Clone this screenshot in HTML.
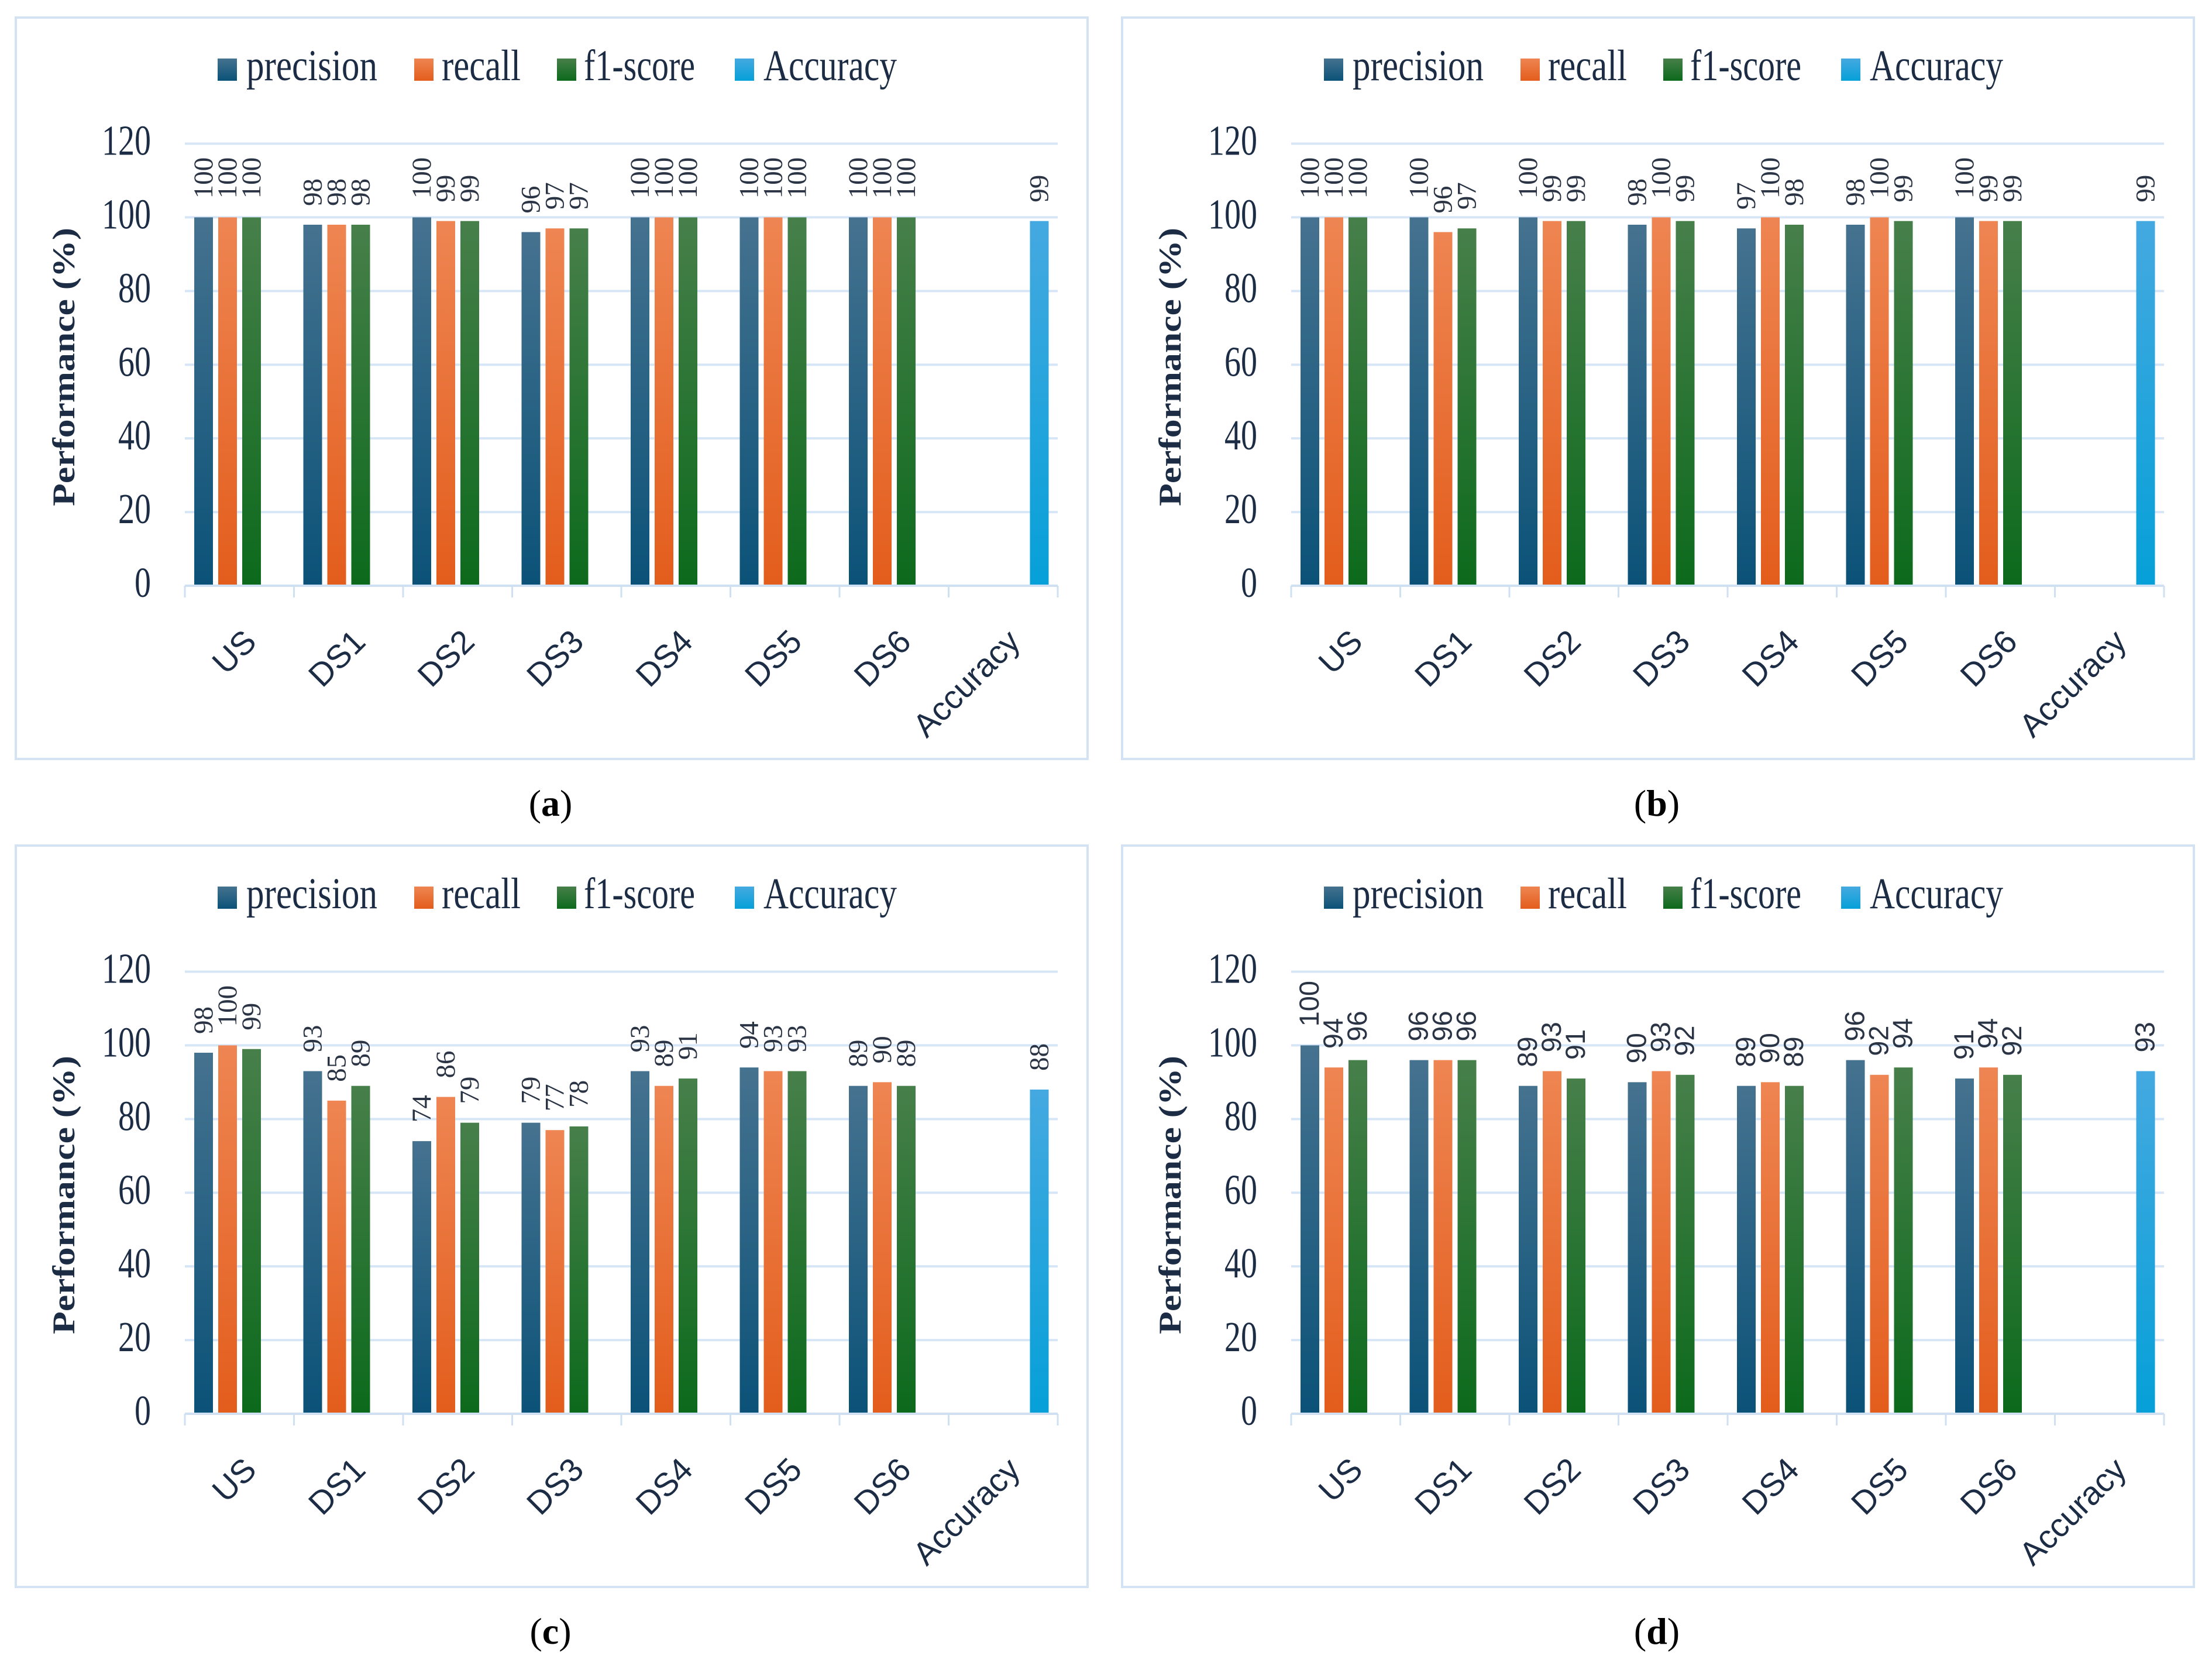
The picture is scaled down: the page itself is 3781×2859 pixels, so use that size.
<!DOCTYPE html>
<html><head><meta charset="utf-8"><style>
html,body{margin:0;padding:0;background:#fff;}
svg{display:block;}
</style></head><body>
<svg id="fig" xmlns="http://www.w3.org/2000/svg" width="3781" height="2859" viewBox="0 0 3781 2859">
<defs>
<linearGradient id="gP" x1="0" y1="0" x2="0" y2="1"><stop offset="0" stop-color="#45728f"/><stop offset="1" stop-color="#0b5278"/></linearGradient>
<linearGradient id="gR" x1="0" y1="0" x2="0" y2="1"><stop offset="0" stop-color="#ee8552"/><stop offset="1" stop-color="#e35d1c"/></linearGradient>
<linearGradient id="gF" x1="0" y1="0" x2="0" y2="1"><stop offset="0" stop-color="#477f4a"/><stop offset="1" stop-color="#0c6a1c"/></linearGradient>
<linearGradient id="gA" x1="0" y1="0" x2="0" y2="1"><stop offset="0" stop-color="#44a9e0"/><stop offset="1" stop-color="#06a0d8"/></linearGradient>
</defs>
</svg>
<script>
const categories = ["US","DS1","DS2","DS3","DS4","DS5","DS6","Accuracy"];
const seriesNames = ["precision","recall","f1-score","Accuracy"];
const yTicks = [0,20,40,60,80,100,120];
const panelLabels = ["a","b","c","d"];
const aPrecision = [100,98,100,96,100,100,100];
const aRecall = [100,98,99,97,100,100,100];
const aF1 = [100,98,99,97,100,100,100];
const aAccuracy = 99;
const bPrecision = [100,100,100,98,97,98,100];
const bRecall = [100,96,99,100,100,100,99];
const bF1 = [100,97,99,99,98,99,99];
const bAccuracy = 99;
const cPrecision = [98,93,74,79,93,94,89];
const cRecall = [100,85,86,77,89,93,90];
const cF1 = [99,89,79,78,91,93,89];
const cAccuracy = 88;
const dPrecision = [100,96,89,90,89,96,91];
const dRecall = [94,96,93,93,90,92,94];
const dF1 = [96,96,91,92,89,94,92];
const dAccuracy = 93;

const NS = "http://www.w3.org/2000/svg";
const svg = document.getElementById('fig');
function mk(tag, attrs, parent, text){
  const e = document.createElementNS(NS, tag);
  for (const k in attrs) e.setAttribute(k, attrs[k]);
  if (text !== undefined) e.textContent = text;
  parent.appendChild(e); return e;
}
const TXT = "#1b2c44";
const fills = ["url(#gP)","url(#gR)","url(#gF)","url(#gA)"];
const legendSq = [372,708,952,1256];
const legendTx = [421,755,998,1305];
const legendW = [224,135,190,228];

function drawPanel(idx, ox, oy, P, R, F, acc, labelFont){
  const g = mk('g', {transform:`translate(${ox},${oy})`}, svg);
  
  
  const fr = mk('rect', {x:27, y:30, width:1832, height:1267, fill:'none', stroke:'#d3e3f4', 'stroke-width':4}, g);
  
  
  const x0 = 316, cw = 186.5, yBase = 1001, yTop = 245.5;
  const yScale = v => yBase - (v/120)*(yBase - yTop);
  const xCat = i => x0 + i*cw;
  yTicks.forEach(t => {
    if (t > 0) {
      const gl = mk('line', {x1:x0, x2:x0+8*cw, y1:yScale(t), y2:yScale(t), stroke:'#d6e6f6', 'stroke-width':4}, g);
      
      
    }
    const tl = mk('text', {transform:`translate(258,${yScale(t)+19}) scale(1,1.3)`, 'text-anchor':'end', 'font-family':'"Liberation Serif", serif', 'font-size':56, fill:TXT}, g, String(t));
    
    
  });
  const yt = mk('text', {transform:'translate(127,627) rotate(-90)', 'text-anchor':'middle', 'font-family':'"Liberation Serif", serif', 'font-weight':'bold', 'font-size':54, fill:TXT, textLength:476, lengthAdjust:'spacingAndGlyphs'}, g, 'Performance (%)');
  
  
  const series = [P, R, F];
  for (let c = 0; c < 7; c++) {
    for (let s = 0; s < 3; s++) {
      const v = series[s][c];
      const bx = xCat(c) + 16 + s*41;
      const b = mk('rect', {x:bx, y:yScale(v), width:32, height:yBase - yScale(v), fill:fills[s]}, g);
      
      
      const lb = mk('text', {transform:`translate(${bx+31},${yScale(v)-32}) rotate(-90)`, 'font-family':labelFont, 'font-size':47, fill:'#2a3444'}, g, String(v));
      
      
    }
  }
  const ax = xCat(7) + 16 + 3*41;
  const ab = mk('rect', {x:ax, y:yScale(acc), width:32, height:yBase - yScale(acc), fill:fills[3]}, g);
  
  
  const al = mk('text', {transform:`translate(${ax+31},${yScale(acc)-32}) rotate(-90)`, 'font-family':labelFont, 'font-size':47, fill:'#2a3444'}, g, String(acc));
  
  
  const xa = mk('line', {x1:x0, x2:x0+8*cw, y1:yBase, y2:yBase, stroke:'#cfe0f2', 'stroke-width':4}, g);
  
  
  for (let i = 0; i <= 8; i++) {
    const tk = mk('line', {x1:xCat(i), x2:xCat(i), y1:yBase, y2:yBase+20, stroke:'#cfe0f2', 'stroke-width':3}, g);
    
    
  }
  categories.forEach((c, i) => {
    const cx = xCat(i) + cw/2;
    const t = mk('text', {transform:`translate(${cx+32},${1100}) rotate(-45)`, 'text-anchor':'end', 'font-family':'"Liberation Sans", sans-serif', 'font-size':56, fill:TXT}, g, c);
    
    
  });
  seriesNames.forEach((n, i) => {
    const sq = mk('rect', {x:legendSq[i], y:100, width:33, height:38, fill:fills[i]}, g);
    
    
    const lt = mk('text', {transform:`translate(${legendTx[i]},137) scale(1,1.25)`, 'font-family':'"Liberation Serif", serif', 'font-size':60, fill:TXT, textLength:legendW[i], lengthAdjust:'spacingAndGlyphs'}, g, n);
    
    
  });
  const cap = mk('text', {x:941, y:1394, 'text-anchor':'middle', 'font-family':'"Liberation Serif", serif', 'font-size':64, fill:'#000'}, g);
  
  
  mk('tspan', {}, cap, '(');
  mk('tspan', {'font-weight':'bold'}, cap, panelLabels[idx]);
  mk('tspan', {}, cap, ')');
}
const serif = '"Liberation Serif", serif';
const sans = '"Liberation Sans", sans-serif';
drawPanel(0, 0, 0, aPrecision, aRecall, aF1, aAccuracy, serif);
drawPanel(1, 1891, 0, bPrecision, bRecall, bF1, bAccuracy, serif);
drawPanel(2, 0, 1415, cPrecision, cRecall, cF1, cAccuracy, serif);
drawPanel(3, 1891, 1415, dPrecision, dRecall, dF1, dAccuracy, sans);
</script>
</body></html>
